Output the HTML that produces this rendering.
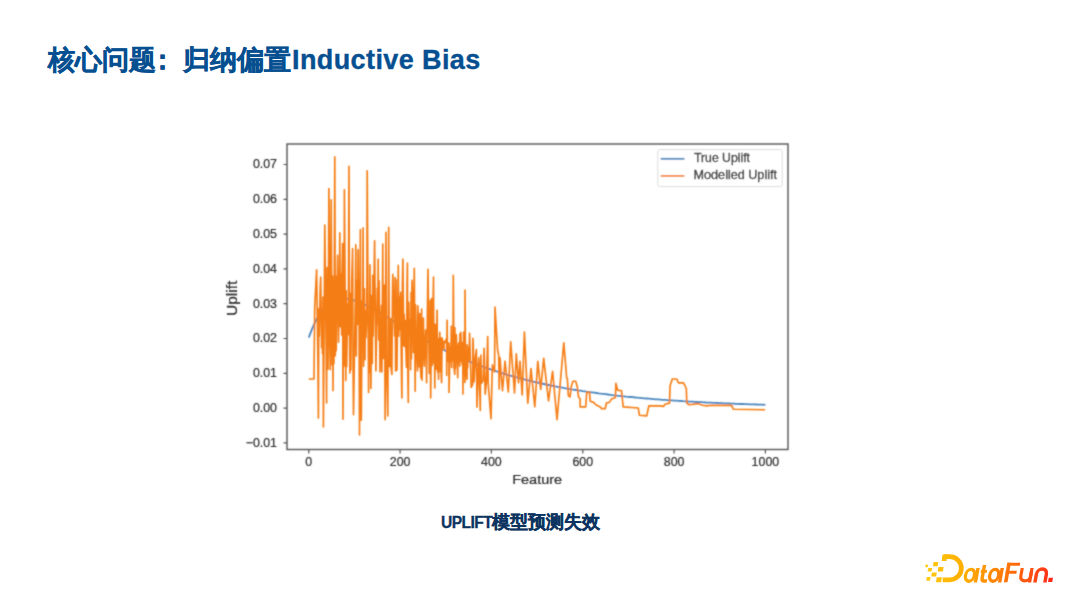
<!DOCTYPE html>
<html><head><meta charset="utf-8">
<style>
html,body{margin:0;padding:0;background:#fff;}
body{width:1080px;height:608px;position:relative;overflow:hidden;font-family:"Liberation Sans",sans-serif;}
#title{position:absolute;left:48px;top:40px;font-size:27px;font-weight:bold;color:#064f91;white-space:nowrap;line-height:40px;}
#title .cj{-webkit-text-stroke:0.45px currentColor;margin-right:1px;}
#cap .cj{-webkit-text-stroke:0.35px currentColor;}
#title .en{letter-spacing:0.4px;-webkit-text-stroke:0.35px currentColor;}
#cap{position:absolute;left:441px;top:510px;font-size:16px;font-weight:bold;color:#0d3460;white-space:nowrap;line-height:24px;}
svg{position:absolute;left:0;top:0;}
</style></head><body>
<div id="title"><span class="cj">核心问题<span style="position:relative;left:-7px">：</span>归纳偏置</span><span class="en">Inductive Bias</span></div>
<svg width="1080" height="608" viewBox="0 0 1080 608">
 <defs><filter id="bl" x="-5%" y="-5%" width="110%" height="110%"><feConvolveMatrix order="3" kernelMatrix="1 2 1 2 10 2 1 2 1" divisor="22" edgeMode="none"/></filter></defs>
 <g filter="url(#bl)">
 <g font-family="Liberation Sans, sans-serif" fill="#2a2a2a" stroke="#2a2a2a" stroke-width="0.2" font-size="12.4">
  <text x="277" y="168.3" text-anchor="end">0.07</text>
  <text x="277" y="203.1" text-anchor="end">0.06</text>
  <text x="277" y="237.9" text-anchor="end">0.05</text>
  <text x="277" y="272.7" text-anchor="end">0.04</text>
  <text x="277" y="307.5" text-anchor="end">0.03</text>
  <text x="277" y="342.3" text-anchor="end">0.02</text>
  <text x="277" y="377.1" text-anchor="end">0.01</text>
  <text x="277" y="411.9" text-anchor="end">0.00</text>
  <text x="277" y="446.7" text-anchor="end">−0.01</text>
  <text x="308.8" y="466.2" text-anchor="middle">0</text>
  <text x="400.1" y="466.2" text-anchor="middle">200</text>
  <text x="491.4" y="466.2" text-anchor="middle">400</text>
  <text x="582.8" y="466.2" text-anchor="middle">600</text>
  <text x="674.1" y="466.2" text-anchor="middle">800</text>
  <text x="765.4" y="466.2" text-anchor="middle">1000</text>
  <text x="537.2" y="483.5" text-anchor="middle" font-size="12.8" textLength="50" lengthAdjust="spacingAndGlyphs">Feature</text>
  <text transform="translate(236.6,298.3) rotate(-90)" text-anchor="middle" font-size="13.8" textLength="35.5" lengthAdjust="spacingAndGlyphs">Uplift</text>
 </g>
 <g stroke="#555" stroke-width="1.2" fill="none">
  <path d="M283.5,164.5H287 M283.5,199.3H287 M283.5,234.1H287 M283.5,268.9H287 M283.5,303.7H287 M283.5,338.5H287 M283.5,373.3H287 M283.5,408.1H287 M283.5,442.9H287"/>
  <path d="M308.8,449.5V453.5 M400.1,449.5V453.5 M491.4,449.5V453.5 M582.8,449.5V453.5 M674.1,449.5V453.5 M765.4,449.5V453.5"/>
 </g>
 <path d="M308.8,337.6 L311.1,331.4 L313.4,325.9 L315.6,321.1 L317.9,317.0 L320.2,313.3 L322.5,310.2 L324.8,307.6 L327.1,305.4 L329.3,303.5 L331.6,302.0 L333.9,300.9 L336.2,300.0 L338.5,299.4 L340.8,299.0 L343.0,298.8 L345.3,298.9 L347.6,299.1 L349.9,299.4 L352.2,299.9 L354.5,300.5 L356.7,301.3 L359.0,302.1 L361.3,303.0 L363.6,304.1 L365.9,305.1 L368.2,306.3 L370.4,307.5 L372.7,308.7 L375.0,310.0 L377.3,311.3 L379.6,312.6 L381.9,314.0 L384.1,315.3 L386.4,316.7 L388.7,318.1 L391.0,319.5 L393.3,321.0 L395.6,322.4 L397.8,323.8 L400.1,325.2 L402.4,326.6 L404.7,328.0 L407.0,329.4 L409.3,330.8 L411.5,332.1 L413.8,333.5 L416.1,334.8 L418.4,336.2 L420.7,337.5 L423.0,338.8 L425.2,340.1 L427.5,341.4 L429.8,342.6 L432.1,343.8 L434.4,345.1 L436.6,346.3 L438.9,347.4 L441.2,348.6 L443.5,349.7 L445.8,350.9 L448.1,352.0 L450.3,353.1 L452.6,354.1 L454.9,355.2 L457.2,356.2 L459.5,357.2 L461.8,358.2 L464.0,359.2 L466.3,360.2 L468.6,361.1 L470.9,362.1 L473.2,363.0 L475.5,363.9 L477.7,364.7 L480.0,365.6 L482.3,366.5 L484.6,367.3 L486.9,368.1 L489.2,368.9 L491.4,369.7 L493.7,370.4 L496.0,371.2 L498.3,371.9 L500.6,372.7 L502.9,373.4 L505.1,374.1 L507.4,374.8 L509.7,375.4 L512.0,376.1 L514.3,376.7 L516.6,377.4 L518.8,378.0 L521.1,378.6 L523.4,379.2 L525.7,379.8 L528.0,380.3 L530.3,380.9 L532.5,381.4 L534.8,382.0 L537.1,382.5 L539.4,383.0 L541.7,383.5 L543.9,384.0 L546.2,384.5 L548.5,385.0 L550.8,385.5 L553.1,385.9 L555.4,386.4 L557.6,386.8 L559.9,387.2 L562.2,387.6 L564.5,388.1 L566.8,388.5 L569.1,388.9 L571.3,389.3 L573.6,389.6 L575.9,390.0 L578.2,390.4 L580.5,390.7 L582.8,391.1 L585.0,391.4 L587.3,391.8 L589.6,392.1 L591.9,392.4 L594.2,392.7 L596.5,393.0 L598.7,393.4 L601.0,393.7 L603.3,393.9 L605.6,394.2 L607.9,394.5 L610.2,394.8 L612.4,395.1 L614.7,395.3 L617.0,395.6 L619.3,395.8 L621.6,396.1 L623.9,396.3 L626.1,396.6 L628.4,396.8 L630.7,397.0 L633.0,397.2 L635.3,397.5 L637.6,397.7 L639.8,397.9 L642.1,398.1 L644.4,398.3 L646.7,398.5 L649.0,398.7 L651.2,398.9 L653.5,399.1 L655.8,399.3 L658.1,399.4 L660.4,399.6 L662.7,399.8 L664.9,399.9 L667.2,400.1 L669.5,400.3 L671.8,400.4 L674.1,400.6 L676.4,400.7 L678.6,400.9 L680.9,401.0 L683.2,401.2 L685.5,401.3 L687.8,401.5 L690.1,401.6 L692.3,401.7 L694.6,401.9 L696.9,402.0 L699.2,402.1 L701.5,402.2 L703.8,402.3 L706.0,402.5 L708.3,402.6 L710.6,402.7 L712.9,402.8 L715.2,402.9 L717.5,403.0 L719.7,403.1 L722.0,403.2 L724.3,403.3 L726.6,403.4 L728.9,403.5 L731.2,403.6 L733.4,403.7 L735.7,403.8 L738.0,403.9 L740.3,404.0 L742.6,404.0 L744.9,404.1 L747.1,404.2 L749.4,404.3 L751.7,404.4 L754.0,404.4 L756.3,404.5 L758.6,404.6 L760.8,404.6 L763.1,404.7 L765.4,404.8" stroke="#4a86bd" stroke-width="1.8" fill="none" stroke-linejoin="round"/>
 <path d="M308.8,379.0 L314.0,379.0 L314.7,307.4 L316.6,269.8 L317.9,358.2 L318.4,418.1 L318.8,308.7 L319.3,336.3 L320.2,287.3 L320.7,277.0 L321.6,347.7 L322.0,312.1 L322.5,353.8 L323.0,297.0 L323.4,427.0 L324.3,296.7 L324.8,225.1 L326.2,350.7 L326.6,403.0 L327.1,267.5 L328.0,369.3 L328.4,289.3 L328.9,188.6 L329.8,346.8 L330.3,369.7 L330.7,277.3 L331.2,199.8 L332.1,365.0 L332.5,276.1 L333.0,390.7 L333.5,281.7 L333.9,363.6 L334.8,156.9 L335.3,355.7 L335.7,276.1 L336.2,350.7 L337.6,255.3 L338.5,342.2 L339.4,288.0 L339.8,232.9 L340.3,326.8 L340.8,273.4 L341.2,279.9 L341.7,334.9 L342.1,268.9 L342.6,243.6 L343.0,419.2 L343.5,288.9 L344.0,366.3 L344.4,189.7 L345.8,380.6 L346.2,290.9 L346.7,366.6 L347.6,304.2 L348.1,334.6 L348.5,282.4 L349.0,166.2 L349.4,318.5 L349.9,373.1 L350.4,293.6 L350.8,369.9 L351.7,281.3 L352.6,248.6 L353.1,367.7 L353.5,414.7 L355.4,292.4 L355.8,244.7 L356.3,355.9 L356.7,280.0 L357.2,324.7 L357.7,305.9 L358.1,249.7 L358.6,323.7 L359.0,306.7 L359.5,434.9 L359.9,294.6 L360.4,229.6 L360.9,367.2 L361.3,420.3 L362.2,300.9 L362.7,342.9 L363.1,227.9 L363.6,366.3 L364.5,288.8 L365.0,359.7 L365.4,310.4 L365.9,337.8 L366.8,316.5 L367.2,170.7 L368.2,330.9 L368.6,392.4 L369.1,316.4 L369.5,372.5 L370.0,264.8 L370.9,388.5 L371.8,295.4 L372.3,363.5 L372.7,275.4 L373.2,336.0 L374.6,240.8 L375.9,371.0 L377.3,288.2 L377.7,323.4 L378.2,259.2 L378.7,339.9 L379.1,280.8 L380.0,371.8 L381.4,305.6 L381.9,372.0 L382.3,307.4 L382.8,244.1 L383.2,358.5 L384.6,285.2 L385.1,419.8 L386.0,232.4 L386.4,360.9 L387.8,415.9 L388.7,227.3 L389.2,337.3 L389.6,366.4 L390.5,318.6 L391.0,368.0 L391.9,374.5 L392.4,300.6 L392.8,274.3 L393.7,305.1 L394.6,335.9 L395.1,277.6 L395.6,370.9 L396.0,279.8 L396.9,370.3 L398.3,265.4 L398.8,336.2 L399.2,296.7 L399.7,329.6 L400.6,292.4 L401.5,375.6 L401.9,398.0 L402.4,284.6 L402.9,259.2 L403.8,345.8 L404.2,314.0 L404.7,346.5 L405.1,320.4 L406.1,356.6 L406.5,367.5 L407.0,285.9 L407.4,263.1 L407.9,376.4 L408.3,402.4 L408.8,302.4 L409.3,333.7 L409.7,331.9 L410.2,319.7 L410.6,369.7 L411.1,292.5 L411.5,358.8 L412.0,280.4 L412.9,307.4 L413.4,352.6 L413.8,304.0 L414.3,268.3 L415.2,391.3 L415.6,304.8 L416.1,328.1 L416.6,351.3 L417.5,370.9 L417.9,305.9 L419.3,366.9 L419.8,313.6 L420.2,363.0 L421.1,378.1 L421.6,309.0 L422.0,380.3 L423.4,318.1 L424.3,366.1 L425.7,330.0 L426.1,343.9 L426.6,382.8 L427.1,333.3 L428.0,269.2 L429.3,373.5 L430.3,300.3 L430.7,397.9 L431.6,298.6 L432.1,365.4 L433.5,277.0 L433.9,363.6 L434.4,323.6 L434.8,388.0 L435.3,324.9 L436.2,369.1 L436.6,340.9 L437.1,310.2 L437.6,372.2 L438.0,338.5 L438.5,379.2 L439.8,332.3 L440.3,371.6 L440.8,337.9 L441.2,375.5 L441.6,382.6 L442.1,338.0 L444.0,349.5 L444.1,341.4 L444.9,342.8 L446.6,338.2 L446.7,375.4 L447.1,320.2 L447.6,361.3 L449.0,343.0 L449.0,392.4 L449.9,354.6 L450.3,346.9 L450.8,361.8 L451.3,326.2 L451.5,357.9 L451.7,367.5 L452.2,338.0 L452.6,360.7 L453.1,328.4 L453.3,275.4 L454.0,367.7 L454.8,374.3 L454.9,327.8 L455.4,368.7 L456.3,336.6 L456.4,334.9 L457.7,377.7 L458.1,346.4 L459.0,342.8 L459.5,360.0 L459.7,366.1 L459.9,333.8 L460.4,361.5 L460.8,332.3 L461.4,353.0 L462.2,364.7 L462.7,342.5 L463.0,394.1 L463.1,370.4 L463.6,332.0 L465.0,382.4 L465.0,290.0 L465.4,347.0 L465.9,369.9 L467.1,379.3 L467.2,344.8 L467.7,367.7 L468.2,347.9 L468.6,360.9 L469.1,352.6 L469.6,333.2 L471.2,387.5 L472.7,384.4 L472.9,338.2 L473.2,343.7 L474.1,381.8 L475.4,356.3 L476.4,349.5 L477.0,407.2 L478.7,357.9 L480.3,410.5 L480.5,365.8 L480.9,355.1 L481.4,383.4 L483.1,380.9 L484.1,348.4 L485.2,394.1 L486.4,382.7 L486.9,364.4 L487.7,336.5 L488.2,383.2 L491.0,418.8 L492.4,364.9 L494.6,371.9 L495.0,307.0 L497.6,349.7 L498.7,355.2 L499.2,389.1 L500.0,357.9 L502.5,390.8 L505.0,361.2 L508.3,392.0 L510.7,341.7 L514.5,393.0 L516.3,353.9 L518.5,382.8 L520.0,361.3 L522.2,395.0 L524.4,332.0 L527.8,403.2 L531.0,368.5 L534.8,406.8 L537.8,361.3 L540.7,389.4 L543.7,358.3 L548.5,400.8 L552.6,371.3 L557.0,419.6 L563.8,342.8 L566.7,378.0 L567.3,378.4 L568.4,395.7 L570.1,396.8 L571.2,386.8 L572.9,381.2 L575.7,381.2 L577.3,386.8 L578.5,396.8 L580.1,399.0 L580.1,406.9 L585.7,406.9 L586.8,392.4 L589.6,392.4 L590.2,401.3 L593.6,402.4 L595.8,404.7 L600.3,406.9 L601.4,408.6 L605.3,408.6 L606.4,403.0 L609.2,402.4 L611.5,399.1 L615.4,397.4 L615.9,383.4 L617.6,390.1 L621.5,390.7 L623.2,406.9 L638.3,408.0 L639.4,415.3 L646.7,415.9 L648.9,405.8 L660.0,405.9 L663.4,406.4 L665.0,404.2 L669.5,403.1 L670.1,385.7 L672.3,379.0 L676.8,379.0 L678.5,382.9 L683.5,382.9 L686.3,388.5 L686.8,403.1 L689.1,404.7 L698.0,403.6 L702.5,405.3 L707.0,405.9 L710.3,405.3 L731.6,405.3 L733.3,409.2 L765.1,409.8" stroke="#f57d14" stroke-width="1.65" fill="none" stroke-linejoin="round"/>
 <rect x="287" y="144" width="501" height="305.5" fill="none" stroke="#555" stroke-width="1.4"/>
 <rect x="657.8" y="149.6" width="124.4" height="37" rx="2" fill="rgba(255,255,255,0.8)" stroke="#dcdcdc" stroke-width="1"/>
 <path d="M660.7,158.8H684.4" stroke="#4a86bd" stroke-width="1.8"/>
 <path d="M660.7,175.9H684.4" stroke="#f5862a" stroke-width="1.8"/>
 <g font-family="Liberation Sans, sans-serif" fill="#2a2a2a" stroke="#2a2a2a" stroke-width="0.3" font-size="12">
  <text x="694" y="161.6" textLength="56" lengthAdjust="spacingAndGlyphs">True Uplift</text>
  <text x="693.6" y="178.7" textLength="83.4" lengthAdjust="spacingAndGlyphs">Modelled Uplift</text>
 </g>
</g>
</svg>
<div id="cap"><span style="font-size:15.6px;letter-spacing:-0.55px;-webkit-text-stroke:0.3px currentColor;position:relative;top:0px">UPLIFT</span><span class="cj" style="font-size:18px">模型预测失效</span></div>
<svg width="1080" height="608" viewBox="0 0 1080 608">
 <defs><linearGradient id="lg" gradientUnits="userSpaceOnUse" x1="925" y1="0" x2="1053" y2="0">
  <stop offset="0" stop-color="#ffcb12"/><stop offset="0.3" stop-color="#ffae00"/><stop offset="0.6" stop-color="#ff7a08"/><stop offset="1" stop-color="#ff2a1a"/></linearGradient></defs>
 <g fill="url(#lg)">
  <circle cx="926.7" cy="566" r="1.4"/>
  <path d="M933.6,562.1H938.3L937.6,566.3H932.9Z"/>
  <path d="M928.3,568H932.2L931.5,571.6H927.6Z"/>
  <path d="M938.4,566.9H943.6L942.9,571.6H937.7Z"/>
  <path d="M931.9,572.5H936.8L936.1,576.6H931.2Z"/>
  <path d="M926.9,577H930.6L929.9,580.8H926.2Z"/>
  <path d="M936.7,577.2H941.8L941.1,582.2H936Z"/>
  <path d="M942.5,554.4H947.3L946.5,561H941.7Z"/>
  <path d="M943,582.2L943.4,577.2"/>
 </g>
 <path d="M944,556.7H949.8A11.55,11.55 0 0 1 949.8,579.8H942.6" fill="none" stroke="url(#lg)" stroke-width="4.7"/>
 <g transform="translate(0,582.5) skewX(-10) translate(0,-582.5)">
  <g fill="none" stroke="url(#lg)" stroke-width="3.3">
   <ellipse cx="968.7" cy="575.3" rx="4.45" ry="5.95"/>
   <path d="M975.45,567.9V582.6" stroke-width="3.4"/>
   <path d="M981.4,564.9V578.3Q981.4,581 984,581H986.7" stroke-width="3.4"/>
   <path d="M978.8,571.4H985" stroke-width="2.8"/>
   <ellipse cx="992.9" cy="575.3" rx="4.45" ry="5.95"/>
   <path d="M999.65,567.9V582.6" stroke-width="3.4"/>
   <path d="M1019.7,568.1V576.6A4.9,4.2 0 0 0 1029.5,576.6V568.1" stroke-width="3.2"/>
   <path d="M1029.5,572V582.4" stroke-width="3.3"/>
   <path d="M1034.9,582.4V574A5,5.1 0 0 1 1044.9,574V582.4" stroke-width="3.5"/>
  </g>
  <g fill="url(#lg)">
   <rect x="1003.85" y="562.7" width="3.6" height="19.6"/>
   <rect x="1003.85" y="562.7" width="12.95" height="3.1"/>
   <rect x="1003.85" y="570.7" width="10.95" height="3.1"/>
  </g>
  <rect x="1047.9" y="577.7" width="4.3" height="4.3" fill="#ff2a1a"/>
 </g>
</svg>
</body></html>
